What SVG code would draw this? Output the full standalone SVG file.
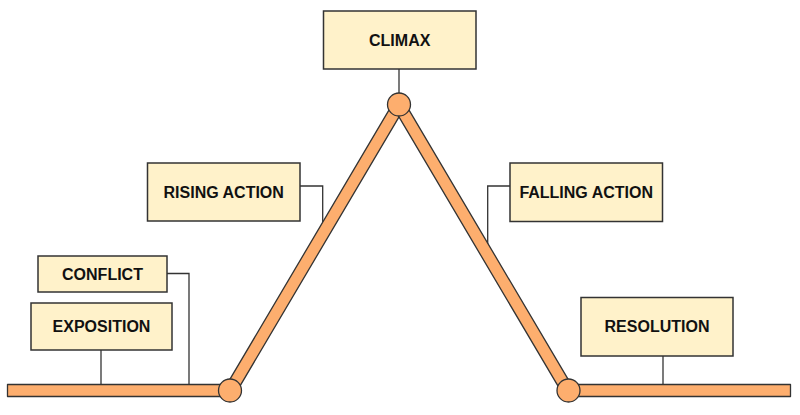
<svg xmlns="http://www.w3.org/2000/svg" width="800" height="415" viewBox="0 0 800 415">
<style>
.box{fill:#FFF2CA;stroke:#333;stroke-width:1.5}
.lbl{font-family:"Liberation Sans",Arial,sans-serif;font-weight:bold;font-size:16px;fill:#111;text-anchor:middle}
.conn{fill:none;stroke:#333;stroke-width:1.3}
.bar{fill:#FDAE6E;stroke:#333;stroke-width:1.3;stroke-linejoin:round}
</style>
<rect width="800" height="415" fill="#fff"/>
<g id="connectors">
<polyline class="conn" points="101,350 101,390"/>
<polyline class="conn" points="167,273.5 189,273.5 189,390"/>
<polyline class="conn" points="300,186 322.7,186 322.7,236"/>
<polyline class="conn" points="399,69 399,100"/>
<polyline class="conn" points="510,186 487.7,186 487.7,248"/>
<polyline class="conn" points="663,356 663,390"/>
</g>
<g id="plot-line">
<rect class="bar" x="7.5" y="384.5" width="224" height="12"/>
<rect class="bar" x="567" y="384.5" width="223.5" height="12"/>
<polygon class="bar" points="235.2,394.1 404.2,108.1 393.8,101.9 224.8,387.9"/>
<polygon class="bar" points="404.2,101.9 573.2,387.9 562.8,394.1 393.8,108.1"/>
<circle class="bar" cx="230" cy="390.5" r="11.5"/>
<circle class="bar" cx="399" cy="104.5" r="11.5"/>
<circle class="bar" cx="568.5" cy="390.5" r="11.5"/>
</g>
<g id="exposition">
<rect class="box" x="31" y="303" width="141" height="47"/>
<text class="lbl" x="101.5" y="332.3">EXPOSITION</text>
</g>
<g id="conflict">
<rect class="box" x="38" y="256" width="129" height="36"/>
<text class="lbl" x="102.5" y="279.7">CONFLICT</text>
</g>
<g id="rising-action">
<rect class="box" x="147.5" y="163" width="152.5" height="58"/>
<text class="lbl" x="223.7" y="197.7">RISING ACTION</text>
</g>
<g id="climax">
<rect class="box" x="323.5" y="11" width="152.5" height="58"/>
<text class="lbl" x="399.7" y="45.7">CLIMAX</text>
</g>
<g id="falling-action">
<rect class="box" x="510" y="163" width="152.5" height="58.5"/>
<text class="lbl" x="586.2" y="197.7">FALLING ACTION</text>
</g>
<g id="resolution">
<rect class="box" x="581" y="297.5" width="152" height="58.5"/>
<text class="lbl" x="657" y="332.3">RESOLUTION</text>
</g>
</svg>
